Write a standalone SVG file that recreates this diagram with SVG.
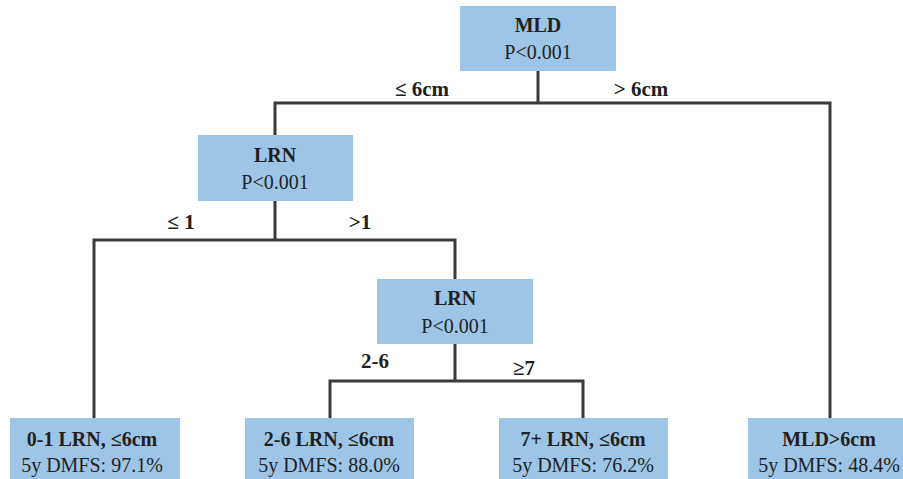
<svg xmlns="http://www.w3.org/2000/svg" width="903" height="479" viewBox="0 0 903 479">
<style>
.box{fill:#9DC5E8}
.t{font-family:"Liberation Serif","Times New Roman",serif;font-size:20px;fill:#231f20;text-anchor:middle}
.b{font-weight:bold}
.lbl{font-family:"Liberation Serif","Times New Roman",serif;font-size:21px;font-weight:bold;fill:#231f20;text-anchor:middle}
.ln{stroke:#3a3a3a;stroke-width:3;fill:none}
</style>
<g id="connectors">
<polyline class="ln" points="538,71 538,103"/>
<polyline class="ln" points="275,135 275,103 830,103 830,418"/>
<polyline class="ln" points="275,201 275,240"/>
<polyline class="ln" points="94,418 94,240 455,240 455,279"/>
<polyline class="ln" points="455,344 455,381"/>
<polyline class="ln" points="330,418 330,381 583,381 583,418"/>
<text class="lbl" x="422" y="96">≤ 6cm</text>
<text class="lbl" x="641" y="96">&gt; 6cm</text>
<text class="lbl" x="181" y="229">≤ 1</text>
<text class="lbl" x="360" y="229">&gt;1</text>
<text class="lbl" x="375" y="368">2-6</text>
<text class="lbl" x="524" y="375">≥7</text>
</g>
<g id="mld">
<rect class="box" x="460" y="6" width="156" height="65"/>
<text class="t b" x="538" y="32">MLD</text>
<text class="t" x="538" y="59">P&lt;0.001</text>
</g>
<g id="lrn1">
<rect class="box" x="198" y="135" width="155" height="66"/>
<text class="t b" x="275" y="162">LRN</text>
<text class="t" x="275" y="189">P&lt;0.001</text>
</g>
<g id="lrn2">
<rect class="box" x="377" y="279" width="156" height="65"/>
<text class="t b" x="455" y="305">LRN</text>
<text class="t" x="455" y="333">P&lt;0.001</text>
</g>
<g id="leaf1">
<rect class="box" x="10" y="418" width="170" height="61"/>
<text class="t b" x="92" y="446">0-1 LRN, ≤6cm</text>
<text class="t" x="92" y="472">5y DMFS: 97.1%</text>
</g>
<g id="leaf2">
<rect class="box" x="245" y="418" width="169" height="61"/>
<text class="t b" x="329" y="446">2-6 LRN, ≤6cm</text>
<text class="t" x="329" y="472">5y DMFS: 88.0%</text>
</g>
<g id="leaf3">
<rect class="box" x="499" y="418" width="169" height="61"/>
<text class="t b" x="583" y="446">7+ LRN, ≤6cm</text>
<text class="t" x="583" y="472">5y DMFS: 76.2%</text>
</g>
<g id="leaf4">
<rect class="box" x="748" y="418" width="155" height="61"/>
<text class="t b" x="829" y="446">MLD&gt;6cm</text>
<text class="t" x="829" y="472">5y DMFS: 48.4%</text>
</g>
</svg>
